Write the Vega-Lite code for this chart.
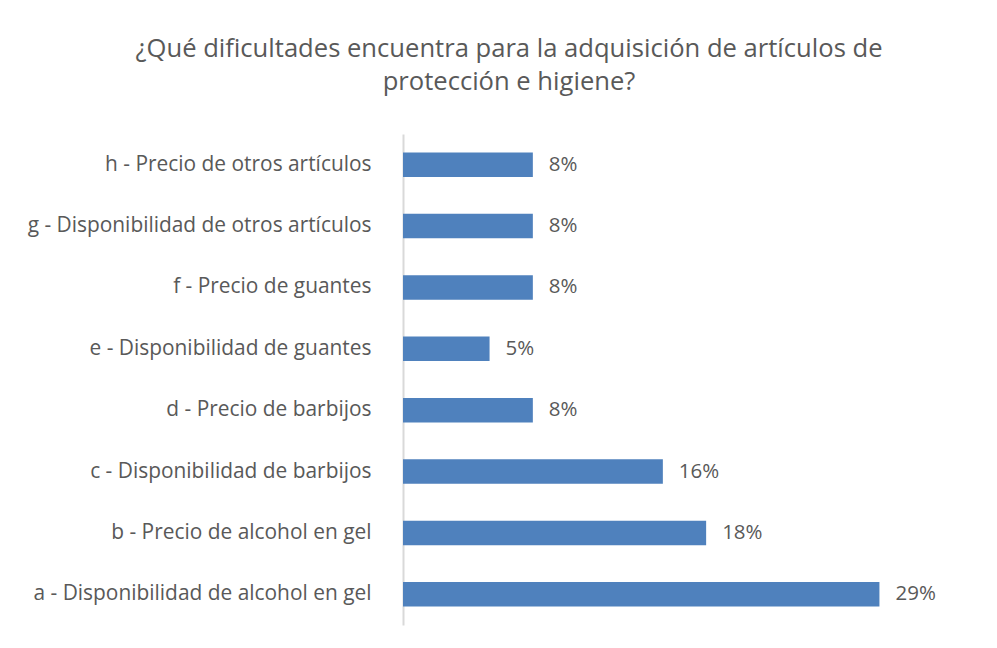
{
  "$schema": "https://vega.github.io/schema/vega-lite/v6.json",
  "autosize": {"type": "none"},
  "padding": {"left": 403, "top": 134, "right": 18, "bottom": 23},
  "width": 576,
  "height": 491,
  "background": "white",
  "title": {
    "text": ["¿Qué dificultades encuentra para la adquisición de artículos de", "protección e higiene?"],
    "anchor": "middle",
    "frame": "group",
    "dx": -182,
    "offset": 38,
    "font": "Open Sans",
    "fontSize": 25.6,
    "fontWeight": "normal",
    "color": "#595959",
    "lineHeight": 33
  },
  "data": {
    "values": [
      {"cat": "h - Precio de otros artículos", "val": 0.0789},
      {"cat": "g - Disponibilidad de otros artículos", "val": 0.0789},
      {"cat": "f - Precio de guantes", "val": 0.0789},
      {"cat": "e - Disponibilidad de guantes", "val": 0.0526},
      {"cat": "d - Precio de barbijos", "val": 0.0789},
      {"cat": "c - Disponibilidad de barbijos", "val": 0.1579},
      {"cat": "b - Precio de alcohol en gel", "val": 0.1842},
      {"cat": "a - Disponibilidad de alcohol en gel", "val": 0.2895}
    ]
  },
  "encoding": {
    "y": {
      "field": "cat",
      "type": "nominal",
      "sort": null,
      "scale": {"paddingInner": 0.6, "paddingOuter": 0.3},
      "axis": {
        "title": null,
        "ticks": false,
        "domainColor": "#d9d9d9",
        "domainWidth": 2,
        "labelPadding": 32,
        "labelFont": "Open Sans",
        "labelFontSize": 20.9,
        "labelColor": "#595959",
        "labelLimit": 400
      }
    },
    "x": {
      "field": "val",
      "type": "quantitative",
      "scale": {"domain": [0, 0.35], "nice": false},
      "axis": null
    }
  },
  "layer": [
    {"mark": {"type": "bar", "color": "#4F81BD"}},
    {
      "mark": {"type": "text", "align": "left", "dx": 16, "font": "Open Sans", "fontSize": 20.5, "color": "#595959"},
      "encoding": {"text": {"field": "val", "type": "quantitative", "format": ".0%"}}
    }
  ],
  "config": {"view": {"stroke": null}}
}
